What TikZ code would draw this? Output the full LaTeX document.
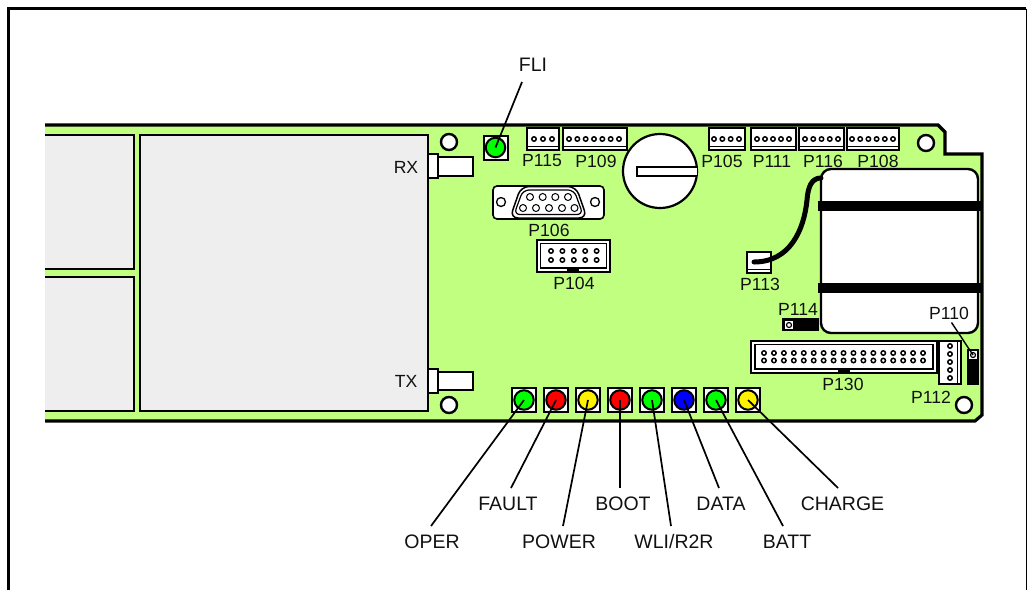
\documentclass[tikz,border=0pt]{standalone}
\usepackage{fontspec}
\setmainfont{Liberation Sans}
\definecolor{board}{HTML}{C0FF80}
\definecolor{panel}{HTML}{EEEEEE}
\definecolor{ink}{HTML}{111111}
\tikzset{
  frameline/.style={line width=3pt,black},
  boardline/.style={line width=3.2pt,black,line join=miter},
  part/.style={draw=black,line width=2.4pt,fill=white},
  thinpart/.style={draw=black,line width=1.6pt,fill=white},
  hole/.style={circle,draw=black,line width=2.4pt,fill=white,minimum size=16pt,inner sep=0pt},
  ledbase/.style={rectangle,draw=black,line width=2pt,fill=white,minimum size=24pt,inner sep=0pt},
  ledlamp/.style={circle,draw=black,line width=2pt,minimum size=19.5pt,inner sep=0pt},
  pin/.style={circle,draw=black,line width=1.5pt,fill=white,minimum size=4.4pt,inner sep=0pt},
  bigpin/.style={circle,draw=black,line width=1pt,fill=white,minimum size=7pt,inner sep=0pt},
  lbl/.style={inner sep=0pt,text=ink,font=\fontsize{17.6}{17.6}\selectfont},
  biglbl/.style={inner sep=0pt,text=ink,font=\fontsize{19.5}{19.5}\selectfont},
  leader/.style={draw=black,line width=1.7pt},
}
\newcommand{\hdr}[7]{%
  \draw[part] (#1,128) rectangle (#2,150);
  \draw[black,line width=1pt] (#1,146.5) -- (#2,146.5);
  \foreach \ii in {1,...,#3}{
    \node[pin] at ({#4+(\ii-1)*(#5-#4)/(#3-1)},139) {};
  }
  \node[lbl] (#6) at (#7,161) {#6};
}
\begin{document}
\begin{tikzpicture}[x=1pt,y=-1pt]
\useasboundingbox (0,0) rectangle (1027,590);
% frame
\draw[frameline] (8.5,590) -- (8.5,8.5) -- (1026,8.5);
\draw[black,line width=1pt] (1026,8.5) -- (1026,590);
% board
\path[fill=board] (45,125) -- (938,125) -- (945,132) -- (945,154) -- (982,154) -- (982,415) -- (975,421) -- (45,421) -- cycle;
\draw[boardline] (45,125) -- (938,125) -- (945,132) -- (945,154) -- (982,154) -- (982,415) -- (975,421) -- (45,421);
% RF panels
\path[fill=panel] (45,135) -- (134,135) -- (134,269) -- (45,269) -- cycle;
\draw[black,line width=2.4pt] (45,135) -- (134,135) -- (134,269) -- (45,269);
\path[fill=panel] (45,277) -- (134,277) -- (134,411) -- (45,411) -- cycle;
\draw[black,line width=2.4pt] (45,277) -- (134,277) -- (134,411) -- (45,411);
\draw[black,line width=2.4pt,fill=panel] (140,135) rectangle (428,411);
% RF connectors
\draw[part] (438,157) rectangle (473,176);
\draw[part] (428,154) rectangle (438,178);
\draw[part] (438,372) rectangle (473,390);
\draw[part] (428,369) rectangle (438,393);
\node[lbl] (rx) at (406,167.5) {RX};
\node[lbl] (tx) at (406,381.5) {TX};
% mounting holes
\node[hole] (h1) at (449,142) {};
\node[hole] (h2) at (449,405) {};
\node[hole] (h3) at (926,143) {};
\node[hole] (h4) at (964,405) {};
% FLI
\node[ledbase] (fliB) at (495.5,147.5) {};
\node[ledlamp,fill=green] (fli) at (495.5,147.5) {};
\node[biglbl] (flilab) at (533,64.5) {FLI};
\coordinate (flie) at (522,82);
\draw[leader] (fli.center) -- (flie);
% top headers
\hdr{527}{559}{3}{534}{552}{P115}{542}
\hdr{563}{627}{7}{569}{619}{P109}{596}
\hdr{709}{745}{4}{714}{739}{P105}{722}
\hdr{751}{796}{5}{757}{789}{P111}{772}
\hdr{799}{844}{5}{805}{838}{P116}{823}
\hdr{847}{899}{6}{852}{893}{P108}{878}
% coin cell
\node[circle,draw=black,line width=2.2pt,fill=white,minimum size=74pt,inner sep=0pt] (coin) at (660,171) {};
\draw[part] (697,167) -- (637,167) -- (637,176) -- (697,176);
% P106 D-sub
\draw[thinpart,rounded corners=4pt] (493,186) rectangle (604,219);
\node[bigpin,line width=1.3pt,minimum size=9pt] (s1) at (501,202) {};
\node[bigpin,line width=1.3pt,minimum size=9pt] (s2) at (595,202) {};
\draw[black,line width=1.5pt,rounded corners=8pt] (521,186.5) -- (576,186.5) -- (587,218) -- (510,218) -- cycle;
\draw[black,line width=1.2pt,rounded corners=6pt] (523,190) -- (574,190) -- (583,214.5) -- (514,214.5) -- cycle;
\foreach \xx in {530,542.7,555.3,568}{\node[bigpin] at (\xx,197) {};}
\foreach \xx in {523,536,549,562,574.5}{\node[bigpin] at (\xx,208) {};}
\node[lbl] (P106) at (549,230.5) {P106};
% P104
\draw[part] (537,240) rectangle (610,272);
\draw[black,line width=1.2pt] (540.5,243.5) rectangle (606.5,268);
\fill[black] (567,268.5) rectangle (579,272.5);
\foreach \xx in {551,562.4,573.8,585.2,596.6}{
  \node[pin] at (\xx,251) {};
  \node[pin] at (\xx,260) {};
}
\node[lbl] (P104) at (574,283.5) {P104};
% battery
\draw[part,rounded corners=10pt] (821,169) rectangle (978,333);
\fill[black] (818,200.5) rectangle (982,211);
\fill[black] (818,283) rectangle (982,293);
% P113 and wire
\draw[thinpart] (747,252) rectangle (771,273);
\draw[black,line width=1pt] (747,269) -- (771,269);
\coordinate (w1) at (754,262);
\coordinate (w2) at (821,178);
\draw[black,line width=5pt,line cap=round] (w1) .. controls (790,262) and (804,230) .. (807,200) .. controls (808,186) and (812,178) .. (w2);
\node[lbl] (P113) at (760,284.5) {P113};
% P114
\fill[black] (782,318) rectangle (819,331);
\node[rectangle,draw=black,fill=white,line width=.8pt,minimum size=9pt,inner sep=0pt] (p114b) at (789,325) {};
\node[circle,draw=black,line width=1.2pt,minimum size=5pt,inner sep=0pt] at (p114b) {};
\node[lbl] (P114) at (798,309.5) {P114};
% P130
\draw[part] (751,341) rectangle (937,373);
\draw[black,line width=1.2pt] (755,344.5) rectangle (933,369);
\fill[black] (838,369) rectangle (850,373.5);
\foreach \ii in {0,...,16}{
  \node[pin] at ({764+\ii*9.94},353) {};
  \node[pin] at ({764+\ii*9.94},360.5) {};
}
\node[lbl] (P130) at (843,384.5) {P130};
% P112
\draw[part] (939,341) rectangle (961,384);
\draw[black,line width=1pt] (957,341) -- (957,384);
\foreach \yy in {346,354,362,370,378}{\node[pin] at (950,\yy) {};}
\node[lbl] (P112) at (931,397.5) {P112};
% P110
\fill[black] (967,349) rectangle (979,385);
\node[rectangle,draw=black,fill=white,line width=.8pt,minimum size=9pt,inner sep=0pt] (p110b) at (973,355) {};
\node[circle,draw=black,line width=1.2pt,minimum size=5pt,inner sep=0pt] at (p110b) {};
\node[lbl] (P110) at (949,313.5) {P110};
\coordinate (p110e) at (951.5,322.5);
\draw[black,line width=1.4pt] (p110b.center) -- (p110e);
% LEDs
\foreach \nn/\xx/\cc in {1/524/green,2/556/red,3/588/yellow,4/620/red,5/652/green,6/684/blue,7/716/green,8/748/yellow}{
  \node[ledbase] (b\nn) at (\xx,400) {};
  \node[ledlamp,fill=\cc] (led\nn) at (\xx,400) {};
}
% LED labels
\node[biglbl] (oper) at (432,541.5) {OPER};
\node[biglbl] (fault) at (508,503.5) {FAULT};
\node[biglbl] (power) at (559,541.5) {POWER};
\node[biglbl] (boot) at (623,503.5) {BOOT};
\node[biglbl] (wli) at (674,541.5) {WLI/R2R};
\node[biglbl] (data) at (721,503.5) {DATA};
\node[biglbl] (batt) at (787,541.5) {BATT};
\node[biglbl] (charge) at (842.5,503.5) {CHARGE};
% leaders
\coordinate (e1) at (431,526);
\coordinate (e2) at (511,488);
\coordinate (e3) at (563,526);
\coordinate (e4) at (620,488);
\coordinate (e5) at (671,526);
\coordinate (e6) at (719,488);
\coordinate (e7) at (783,526);
\coordinate (e8) at (838,488);
\foreach \nn in {1,...,8}{\draw[leader] (led\nn.center) -- (e\nn);}
\end{tikzpicture}
\end{document}
